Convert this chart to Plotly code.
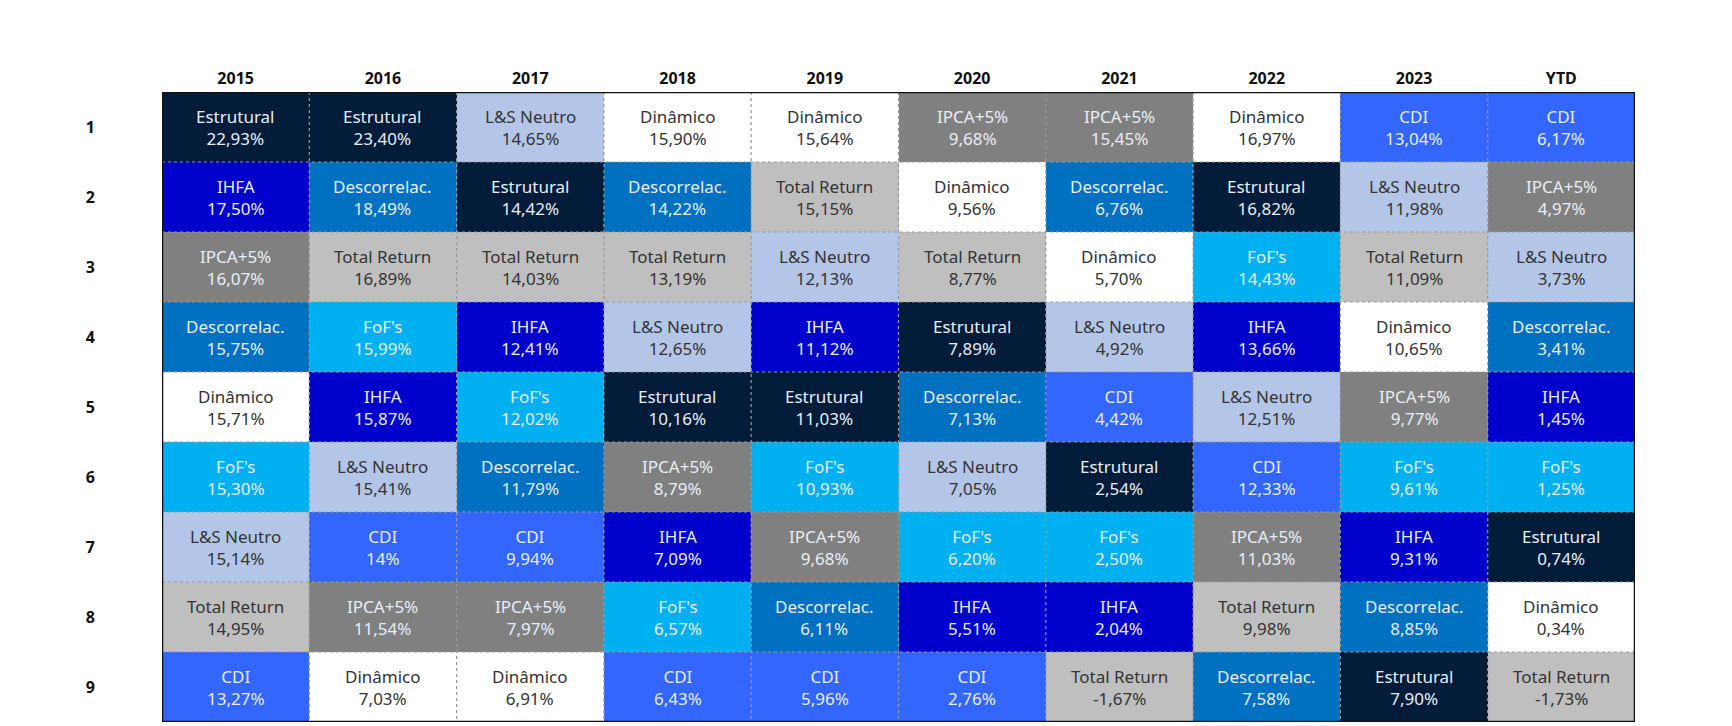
import plotly.graph_objects as go

years = ["2015","2016","2017","2018","2019","2020","2021","2022","2023","YTD"]
ranks = ["1","2","3","4","5","6","7","8","9"]

names_2015 = ["Estrutural","IHFA","IPCA+5%","Descorrelac.","Dinâmico","FoF's","L&S Neutro","Total Return","CDI"]
vals_2015 = ["22,93%","17,50%","16,07%","15,75%","15,71%","15,30%","15,14%","14,95%","13,27%"]
names_2016 = ["Estrutural","Descorrelac.","Total Return","FoF's","IHFA","L&S Neutro","CDI","IPCA+5%","Dinâmico"]
vals_2016 = ["23,40%","18,49%","16,89%","15,99%","15,87%","15,41%","14%","11,54%","7,03%"]
names_2017 = ["L&S Neutro","Estrutural","Total Return","IHFA","FoF's","Descorrelac.","CDI","IPCA+5%","Dinâmico"]
vals_2017 = ["14,65%","14,42%","14,03%","12,41%","12,02%","11,79%","9,94%","7,97%","6,91%"]
names_2018 = ["Dinâmico","Descorrelac.","Total Return","L&S Neutro","Estrutural","IPCA+5%","IHFA","FoF's","CDI"]
vals_2018 = ["15,90%","14,22%","13,19%","12,65%","10,16%","8,79%","7,09%","6,57%","6,43%"]
names_2019 = ["Dinâmico","Total Return","L&S Neutro","IHFA","Estrutural","FoF's","IPCA+5%","Descorrelac.","CDI"]
vals_2019 = ["15,64%","15,15%","12,13%","11,12%","11,03%","10,93%","9,68%","6,11%","5,96%"]
names_2020 = ["IPCA+5%","Dinâmico","Total Return","Estrutural","Descorrelac.","L&S Neutro","FoF's","IHFA","CDI"]
vals_2020 = ["9,68%","9,56%","8,77%","7,89%","7,13%","7,05%","6,20%","5,51%","2,76%"]
names_2021 = ["IPCA+5%","Descorrelac.","Dinâmico","L&S Neutro","CDI","Estrutural","FoF's","IHFA","Total Return"]
vals_2021 = ["15,45%","6,76%","5,70%","4,92%","4,42%","2,54%","2,50%","2,04%","-1,67%"]
names_2022 = ["Dinâmico","Estrutural","FoF's","IHFA","L&S Neutro","CDI","IPCA+5%","Total Return","Descorrelac."]
vals_2022 = ["16,97%","16,82%","14,43%","13,66%","12,51%","12,33%","11,03%","9,98%","7,58%"]
names_2023 = ["CDI","L&S Neutro","Total Return","Dinâmico","IPCA+5%","FoF's","IHFA","Descorrelac.","Estrutural"]
vals_2023 = ["13,04%","11,98%","11,09%","10,65%","9,77%","9,61%","9,31%","8,85%","7,90%"]
names_ytd = ["CDI","IPCA+5%","L&S Neutro","Descorrelac.","IHFA","FoF's","Estrutural","Dinâmico","Total Return"]
vals_ytd = ["6,17%","4,97%","3,73%","3,41%","1,45%","1,25%","0,74%","0,34%","-1,73%"]

names = [names_2015,names_2016,names_2017,names_2018,names_2019,names_2020,names_2021,names_2022,names_2023,names_ytd]
vals = [vals_2015,vals_2016,vals_2017,vals_2018,vals_2019,vals_2020,vals_2021,vals_2022,vals_2023,vals_ytd]

categories = ["Estrutural","IHFA","Descorrelac.","IPCA+5%","Total Return","L&S Neutro","Dinâmico","FoF's","CDI"]
fill = {"Estrutural":"#031c3a","IHFA":"#0000cc","Descorrelac.":"#0070c0","IPCA+5%":"#808080",
        "Total Return":"#bfbfbf","L&S Neutro":"#b4c6e7","Dinâmico":"#ffffff","FoF's":"#00b0f0","CDI":"#3366ff"}
dark_text = {"Total Return","L&S Neutro","Dinâmico"}

n = len(categories)
cs = []
for i, c in enumerate(categories):
    cs.append([i/n, fill[c]]); cs.append([(i+1)/n, fill[c]])

xi = list(range(len(years)))
yi = list(range(len(ranks)))
z = [[categories.index(names[c][r]) for c in xi] for r in yi]

fig = go.Figure(go.Heatmap(z=z, x=xi, y=yi, colorscale=cs, zmin=-0.5, zmax=n-0.5,
                           showscale=False, hoverinfo="skip"))

font = "Noto Sans"
for c in xi:
    for r in yi:
        nm = names[c][r]
        col = "#333333" if nm in dark_text else "#e8eef8"
        fig.add_annotation(x=c, y=r, text=f"{nm}<br>{vals[c][r]}", showarrow=False,
                           font=dict(family=font, size=17, color=col), align="center")
for c in range(1, len(years)):
    fig.add_shape(type="line", x0=c-0.5, x1=c-0.5, y0=-0.5, y1=len(ranks)-0.5,
                  line=dict(color="#999999", width=1.2, dash="dot"))
for r in range(1, len(ranks)):
    fig.add_shape(type="line", x0=-0.5, x1=len(years)-0.5, y0=r-0.5, y1=r-0.5,
                  line=dict(color="#999999", width=1.2, dash="dot"))
fig.add_shape(type="rect", x0=-0.5, x1=len(years)-0.5, y0=-0.5, y1=len(ranks)-0.5,
              line=dict(color="#111111", width=2.5))

fig.update_layout(width=1732, height=726, margin=dict(l=154, r=105, t=84, b=12),
                  paper_bgcolor="white", plot_bgcolor="white")
fig.update_xaxes(side="top", tickfont=dict(family=font, size=16, color="#111"), showgrid=False,
                 ticks="", ticklabelstandoff=4, range=[-0.5, 9.5], zeroline=False,
                 tickvals=xi, ticktext=[f"<b>{y}</b>" for y in years])
fig.update_yaxes(range=[8.5, -0.5], tickfont=dict(family=font, size=16, color="#111"),
                 showgrid=False, ticks="", ticklabelstandoff=66, zeroline=False,
                 tickvals=yi, ticktext=[f"<b>{r}</b>" for r in ranks])
fig.write_html("out.html")
